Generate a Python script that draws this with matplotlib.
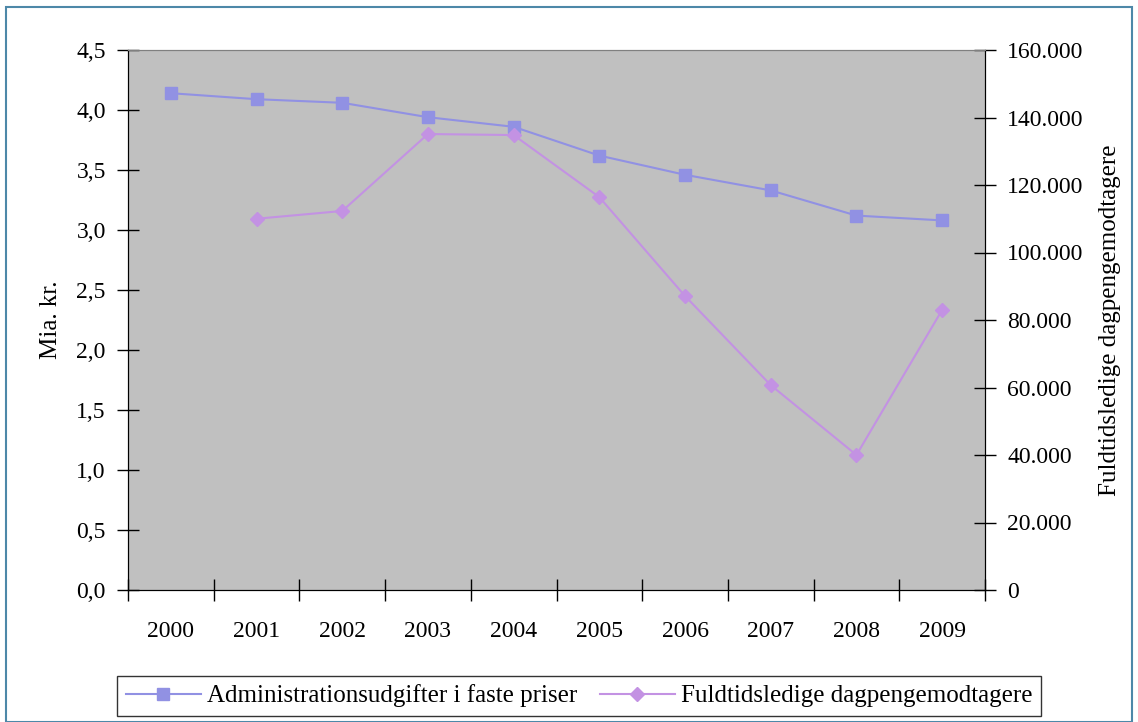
import matplotlib.pyplot as plt
from matplotlib.patches import Rectangle
from matplotlib.lines import Line2D
from matplotlib.ticker import FuncFormatter, MultipleLocator, FixedLocator

plt.rcParams['font.family'] = ['Liberation Serif', 'DejaVu Serif']

years = ["2000", "2001", "2002", "2003", "2004", "2005", "2006", "2007", "2008", "2009"]
admin = [4.14, 4.09, 4.06, 3.94, 3.86, 3.62, 3.46, 3.33, 3.12, 3.08]
ledige_years = ["2001", "2002", "2003", "2004", "2005", "2006", "2007", "2008", "2009"]
ledige = [110000, 112300, 135100, 134800, 116400, 87100, 60700, 40000, 83000]

blue = "#9191e3"
purple = "#c392e3"
fs = 17
lfs = 18

fig = plt.figure(figsize=(11.38, 7.22), dpi=100)
fig.patches.append(Rectangle((6 / 1138, 0), 1126 / 1138, 715 / 722, transform=fig.transFigure,
                             fill=False, edgecolor="#4d88a8", linewidth=1.5))

ax = fig.add_axes([128 / 1138, 132 / 722, 857 / 1138, 540 / 722])
ax.set_facecolor("#c0c0c0")
x = list(range(len(years)))
ax.plot(x, admin, color=blue, marker="s", markersize=8, linewidth=1.5, zorder=3)
ax.set_xlim(-0.5, len(years) - 0.5)
ax.set_ylim(0, 4.5)
ax.yaxis.set_major_locator(MultipleLocator(0.5))
ax.yaxis.set_major_formatter(FuncFormatter(lambda v, p: f"{v:.1f}".replace(".", ",")))
ax.xaxis.set_major_locator(FixedLocator([i - 0.5 for i in range(len(years) + 1)]))
ax.xaxis.set_major_formatter(FuncFormatter(lambda v, p: ""))
ax.xaxis.set_minor_locator(FixedLocator(x))
ax.set_xticklabels(years, minor=True)
ax.tick_params(axis="x", which="major", direction="inout", length=16, width=1)
ax.tick_params(axis="x", which="minor", length=0, pad=22, labelsize=fs)
ax.tick_params(axis="y", direction="inout", length=16, width=1, pad=8, labelsize=fs)
ax.set_ylabel("Mia. kr.", fontsize=lfs, labelpad=10)
ax.spines["top"].set_color("#808080")
for s in ["left", "bottom", "right"]:
    ax.spines[s].set_color("black")

ax2 = ax.twinx()
x2 = [years.index(y) for y in ledige_years]
ax2.plot(x2, ledige, color=purple, marker="D", markersize=7, linewidth=1.5, zorder=3)
ax2.set_ylim(0, 160000)
ax2.yaxis.set_major_locator(MultipleLocator(20000))
ax2.yaxis.set_major_formatter(FuncFormatter(lambda v, p: f"{int(v):,}".replace(",", ".")))
ax2.tick_params(axis="y", direction="inout", length=16, width=1, pad=8, labelsize=fs)
ax2.set_ylabel("Fuldtidsledige dagpengemodtagere", fontsize=lfs, labelpad=11)
ax2.spines["top"].set_color("#808080")

handles = [Line2D([], [], color=blue, marker="s", markersize=8, linewidth=1.5),
           Line2D([], [], color=purple, marker="D", markersize=7, linewidth=1.5)]
leg = fig.legend(handles, ["Administrationsudgifter i faste priser", "Fuldtidsledige dagpengemodtagere"],
                 loc="center", bbox_to_anchor=(579 / 1138, 1 - 696 / 722), ncol=2, fontsize=lfs,
                 frameon=True, fancybox=False, edgecolor="black", handlelength=3.0,
                 handletextpad=0.25, columnspacing=0.9, borderpad=0.35)
leg.get_frame().set_linewidth(1)

fig.savefig("out.png", dpi=100)
